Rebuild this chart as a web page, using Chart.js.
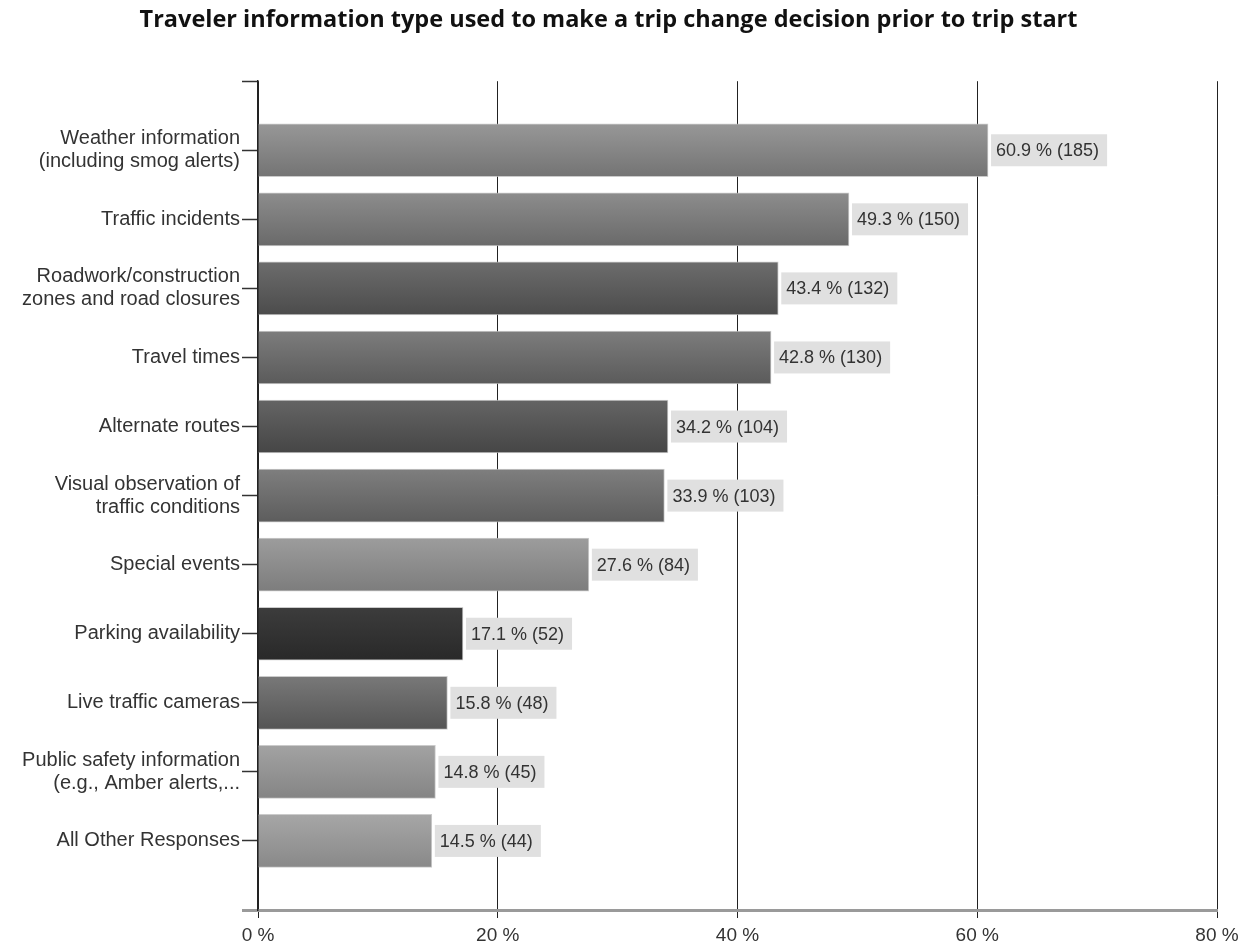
<!DOCTYPE html>
<html>
<head>
<meta charset="utf-8">
<script src="https://cdn.jsdelivr.net/npm/chart.js@4.4.0/dist/chart.umd.min.js"></script>
<style>
  html, body { margin: 0; padding: 0; background: #fff; }
  #wrap { width: 1252px; height: 951px; }
</style>
</head>
<body>
<div id="wrap"><canvas id="barras"></canvas></div>
<script>
const categorias = [
  ["Weather information", "(including smog alerts)"],
  "Traffic incidents",
  ["Roadwork/construction", "zones and road closures"],
  "Travel times",
  "Alternate routes",
  ["Visual observation of", "traffic conditions"],
  "Special events",
  "Parking availability",
  "Live traffic cameras",
  ["Public safety information", "(e.g., Amber alerts,..."],
  "All Other Responses",
];
const percentuais = [60.9, 49.3, 43.4, 42.8, 34.2, 33.9, 27.6, 17.1, 15.8, 14.8, 14.5];
const respostas = [185, 150, 132, 130, 104, 103, 84, 52, 48, 45, 44];
const ticksX = [0, 20, 40, 60, 80];

// gradient shades per bar (top, bottom)
const tons = [
  ["#979797", "#747474"],
  ["#8c8c8c", "#6a6a6a"],
  ["#6c6c6c", "#4c4c4c"],
  ["#7c7c7c", "#5b5b5b"],
  ["#646464", "#464646"],
  ["#7e7e7e", "#5d5d5d"],
  ["#9c9c9c", "#7d7d7d"],
  ["#3c3c3c", "#292929"],
  ["#787878", "#555555"],
  ["#a2a2a2", "#858585"],
  ["#a6a6a6", "#898989"],
];

function gradiente(ctx) {
  const chart = ctx.chart;
  const i = ctx.dataIndex;
  if (!chart.chartArea || i === undefined) return tons[0][1];
  const yc = chart.scales.y.getPixelForValue(i);
  const g = chart.ctx.createLinearGradient(0, yc - 26, 0, yc + 26);
  g.addColorStop(0, tons[i][0]);
  g.addColorStop(1, tons[i][1]);
  return g;
}

const rotulos = {
  id: "rotulos",
  afterDatasetsDraw(chart) {
    const ctx = chart.ctx;
    const meta = chart.getDatasetMeta(0);
    ctx.save();
    ctx.font = "18px Arial, 'Liberation Sans', sans-serif";
    ctx.textBaseline = "middle";
    meta.data.forEach((bar, i) => {
      const txt = percentuais[i].toFixed(1) + " % (" + respostas[i] + ")";
      const w = ctx.measureText(txt).width;
      const x = bar.x + 3;
      ctx.fillStyle = "#e0e0e0";
      ctx.fillRect(x, bar.y - 16, w + 13, 32);
      ctx.fillStyle = "#333";
      ctx.fillText(txt, x + 5, bar.y + 1);
    });
    ctx.restore();
  },
};

let barras = new Chart(document.getElementById("barras"), {
  type: "bar",
  data: {
    datasets: [
      {
        data: percentuais.map((v, i) => ({ x: v, y: i })),
        backgroundColor: gradiente,
        borderColor: "rgba(190,190,190,0.8)",
        borderWidth: 1,
        barThickness: 53,
      },
    ],
  },
  plugins: [rotulos],
  options: {
    indexAxis: "y",
    responsive: true,
    maintainAspectRatio: false,
    animation: false,
    layout: { padding: { left: 0, right: 35, top: 0, bottom: 0 } },
    plugins: {
      legend: { display: false },
      tooltip: { enabled: false },
      title: {
        display: true,
        text: "Traveler information type used to make a trip change decision prior to trip start",
        color: "#111",
        font: { family: "'Open Sans', Arial, sans-serif", size: 23.5, weight: "bold" },
        padding: { top: 6, bottom: 47 },
      },
    },
    scales: {
      x: {
        type: "linear",
        min: ticksX[0],
        max: ticksX[ticksX.length - 1],
        afterBuildTicks: (s) => { s.ticks = ticksX.map((v) => ({ value: v })); },
        afterFit: (s) => { s.height = 41; },
        ticks: {
          color: "#333",
          font: { family: "Arial, 'Liberation Sans', sans-serif", size: 19 },
          padding: 6,
          callback: (v) => v + " %",
        },
        grid: { color: "#222", lineWidth: 1, tickLength: 8 },
        border: { color: "#9a9a9a", width: 3 },
      },
      y: {
        type: "linear",
        reverse: true,
        offset: false,
        min: -1,
        max: categorias.length,
        afterBuildTicks: (s) => {
          const t = [];
          for (let v = -1; v <= categorias.length; v++) t.push({ value: v });
          s.ticks = t;
        },
        afterFit: (s) => { s.width = 258; },
        ticks: {
          autoSkip: false,
          color: "#333",
          padding: 2,
          font: { family: "Arial, 'Liberation Sans', sans-serif", size: 20, lineHeight: 1.15 },
          callback: (v) => (v >= 0 && v < categorias.length ? categorias[v] : ""),
        },
        grid: {
          offset: false,
          drawOnChartArea: false,
          drawTicks: true,
          tickLength: 16,
          tickColor: (c) => (c.tick && c.tick.value === categorias.length ? "#9a9a9a" : "#333"),
          tickWidth: (c) => (c.tick && c.tick.value === categorias.length ? 3 : 1.5),
        },
        border: { color: "#222", width: 1.5 },
      },
    },
  },
});
</script>
</body>
</html>
